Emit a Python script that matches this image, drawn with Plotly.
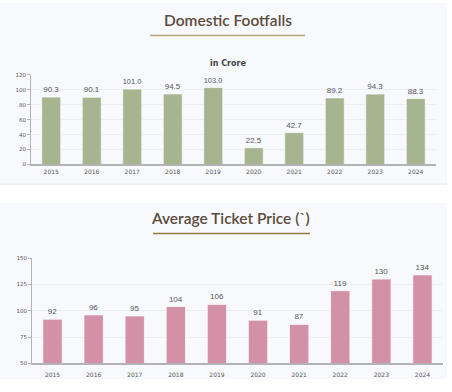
import plotly.graph_objects as go

years = ["2015", "2016", "2017", "2018", "2019", "2020", "2021", "2022", "2023", "2024"]
footfalls = [90.3, 90.1, 101.0, 94.5, 103.0, 22.5, 42.7, 89.2, 94.3, 88.3]
ticket_price = [92, 96, 95, 104, 106, 91, 87, 119, 130, 134]

W, H = 452, 392
def py(y):
    return 1 - y / H
def px(x):
    return x / W

GREEN = "#a6b490"
PINK = "#d291a6"
TXT = "#555555"
FONT = "DejaVu Sans"
LBL_FONT = "Liberation Sans"

fig = go.Figure()
fig.add_trace(go.Bar(
    x=years, y=footfalls, xaxis="x", yaxis="y",
    marker=dict(color=GREEN, line=dict(color="rgba(255,255,255,0.7)", width=1)),
    texttemplate="%{y:.1f}", textposition="outside", cliponaxis=False,
    textfont=dict(size=8, color=TXT, family=LBL_FONT), hoverinfo="x+y",
))
fig.add_trace(go.Bar(
    x=years, y=ticket_price, xaxis="x2", yaxis="y2",
    marker=dict(color=PINK, line=dict(color="rgba(255,255,255,0.7)", width=1)),
    texttemplate="%{y}", textposition="outside", cliponaxis=False,
    textfont=dict(size=8, color=TXT, family=LBL_FONT), hoverinfo="x+y",
))

axis_common = dict(showline=True, linecolor="#b3b3b3", ticks="", showgrid=False,
                   tickfont=dict(size=6, color=TXT, family=FONT), fixedrange=True)
yaxis_common = dict(showline=True, linecolor="#b3b3b3", linewidth=1, ticks="outside",
                    ticklen=3, tickcolor="#b3b3b3", showgrid=True, gridcolor="#eceef2",
                    gridwidth=1, zeroline=False,
                    tickfont=dict(size=5.5, color=TXT, family=FONT), fixedrange=True)

shapes = [
    dict(type="rect", xref="paper", yref="paper", x0=0, x1=px(447), y0=py(184), y1=1,
         fillcolor="#f8f9fd", line=dict(width=0), layer="below"),
    dict(type="line", xref="paper", yref="paper", x0=0, x1=px(447), y0=py(184), y1=py(184),
         line=dict(color="#e3e7ee", width=1), layer="below"),
    dict(type="rect", xref="paper", yref="paper", x0=0, x1=px(447), y0=py(382), y1=py(203),
         fillcolor="#f8f9fd", line=dict(width=0), layer="below"),
    dict(type="line", xref="paper", yref="paper", x0=px(150), x1=px(305), y0=py(33), y1=py(33),
         line=dict(color="#b4a479", width=1.5)),
    dict(type="line", xref="paper", yref="paper", x0=px(153), x1=px(310), y0=py(234), y1=py(234),
         line=dict(color="#937a3e", width=1.5)),
]

annotations = [
    dict(text="Domestic Footfalls", xref="paper", yref="paper", x=px(228), y=py(17),
         showarrow=False, xanchor="center", yanchor="middle",
         font=dict(size=15.5, color="#5b4b3c", family="Lato", weight=600)),
    dict(text="<b>in Crore</b>", xref="paper", yref="paper", x=px(228), y=py(61),
         showarrow=False, xanchor="center", yanchor="middle",
         font=dict(size=8, color="#444444", family=FONT)),
    dict(text="Average Ticket Price (`)", xref="paper", yref="paper", x=px(231), y=py(218),
         showarrow=False, xanchor="center", yanchor="middle",
         font=dict(size=15.5, color="#5b4b3c", family="Lato", weight=600)),
]

fig.update_layout(
    width=W, height=H, margin=dict(l=0, r=0, t=0, b=0),
    paper_bgcolor="white", plot_bgcolor="rgba(0,0,0,0)",
    showlegend=False, bargap=0.53,
    xaxis=dict(axis_common, domain=[px(31), px(436)], anchor="y", linewidth=2),
    yaxis=dict(yaxis_common, domain=[py(164), py(73)], anchor="x", range=[0, 120],
               tickvals=[0, 20, 40, 60, 80, 100, 120]),
    xaxis2=dict(axis_common, domain=[px(32), px(443)], anchor="y2", linewidth=2,
                ticklabelstandoff=4),
    yaxis2=dict(yaxis_common, domain=[py(366), py(259)], anchor="x2", range=[50, 150],
                tickvals=[50, 75, 100, 125, 150]),
    shapes=shapes, annotations=annotations,
)

fig.write_html("out.html", config={"displayModeBar": False},
               post_script="document.body.style.margin='0';document.body.style.overflow='hidden';")
